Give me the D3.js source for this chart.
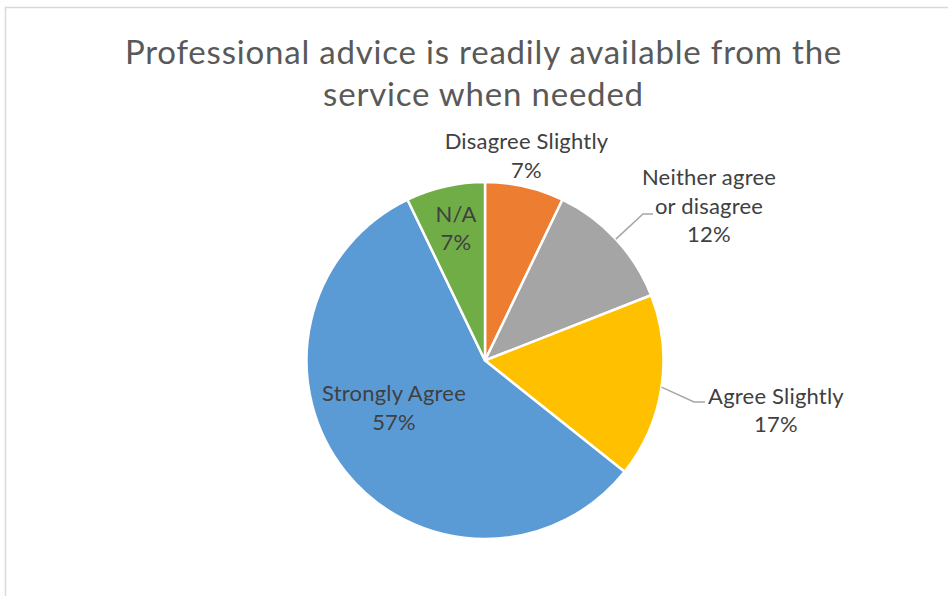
<!DOCTYPE html>
<html>
<head>
<meta charset="utf-8">
<script src="https://cdn.jsdelivr.net/npm/d3@7"></script>
<style>
  html, body { margin: 0; padding: 0; background: #ffffff; }
  svg { display: block; }
  text { font-family: Lato, "Open Sans", sans-serif; }
</style>
</head>
<body>
<svg id="chart" width="948" height="596"></svg>
<script>
// Survey responses (counts), in drawing order clockwise from 12 o'clock
const categories = ["Disagree Slightly", "Neither agree or disagree", "Agree Slightly", "Strongly Agree", "N/A"];
const counts = [3, 5, 7, 24, 3];
const colors = ["#ED7D31", "#A5A5A5", "#FFC000", "#5B9BD5", "#70AD47"];
// Label lines as printed on the chart
const labelLines = [["Disagree Slightly"], ["Neither agree", "or disagree"], ["Agree Slightly"], ["Strongly Agree"], ["N/A"]];
const titleLines = ["Professional advice is readily available from the", "service when needed"];

const svg = d3.select("#chart");
const W = 948, H = 596;

// chart area frame
svg.append("rect")
  .attr("x", 5.5).attr("y", 7.5)
  .attr("width", W + 20).attr("height", H + 20)
  .attr("fill", "#ffffff").attr("stroke", "#D9D9D9").attr("stroke-width", 1.5);

// title
const title = svg.append("text")
  .attr("text-anchor", "middle")
  .attr("fill", "#595959")
  .attr("font-size", 33)
  .attr("letter-spacing", 0.8);
titleLines.forEach((t, i) => {
  title.append("tspan").attr("x", 483.5).attr("y", 64 + i * 42).text(t);
});

const cx = 485, cy = 360.5, R = 178.5;
const g = svg.append("g").attr("transform", `translate(${cx},${cy})`);

const total = d3.sum(counts);
const data = categories.map((c, i) => ({ name: c, value: counts[i], color: colors[i], lines: labelLines[i] }));

const pie = d3.pie().sort(null).value(d => d.value).startAngle(0).endAngle(2 * Math.PI);
const arcs = pie(data);
const arc = d3.arc().innerRadius(0).outerRadius(R);

g.selectAll("path.slice")
  .data(arcs)
  .join("path")
  .attr("class", "slice")
  .attr("d", arc)
  .attr("fill", d => d.data.color)
  .attr("stroke", "#ffffff")
  .attr("stroke-width", 2.5)
  .attr("stroke-linejoin", "round");

// Label placement relative to the pie centre (x = text centre, y = first baseline)
const labelPos = [
  { x: 41.5, y: -211.5 },
  { x: 224, y: -175.5 },
  { x: 291, y: 43 },
  { x: -91, y: 40.5 },
  { x: -29, y: -139 }
];
// Elbow points of leader lines (null = no leader line)
const leaderElbow = [
  null,
  [[158, -146.5], [168, -146.5]],
  [[209, 41.5], [220, 41.5]],
  null,
  null
];

const fmt = v => Math.round(v / total * 100) + "%";
const lineGap = 28.5;

arcs.forEach((a, i) => {
  const p = labelPos[i];
  const t = g.append("text")
    .attr("text-anchor", "middle")
    .attr("fill", "#404040")
    .attr("font-size", 22)
    .attr("letter-spacing", 0.2);
  const lines = a.data.lines.concat([fmt(a.data.value)]);
  lines.forEach((ln, k) => {
    t.append("tspan").attr("x", p.x).attr("y", p.y + k * lineGap).text(ln);
  });

  if (leaderElbow[i]) {
    const mid = (a.startAngle + a.endAngle) / 2;
    const start = [Math.sin(mid) * R, -Math.cos(mid) * R];
    const pts = [start].concat(leaderElbow[i]);
    g.append("path")
      .attr("d", d3.line()(pts))
      .attr("fill", "none")
      .attr("stroke", "#A6A6A6")
      .attr("stroke-width", 1.5);
  }
});
</script>
</body>
</html>
